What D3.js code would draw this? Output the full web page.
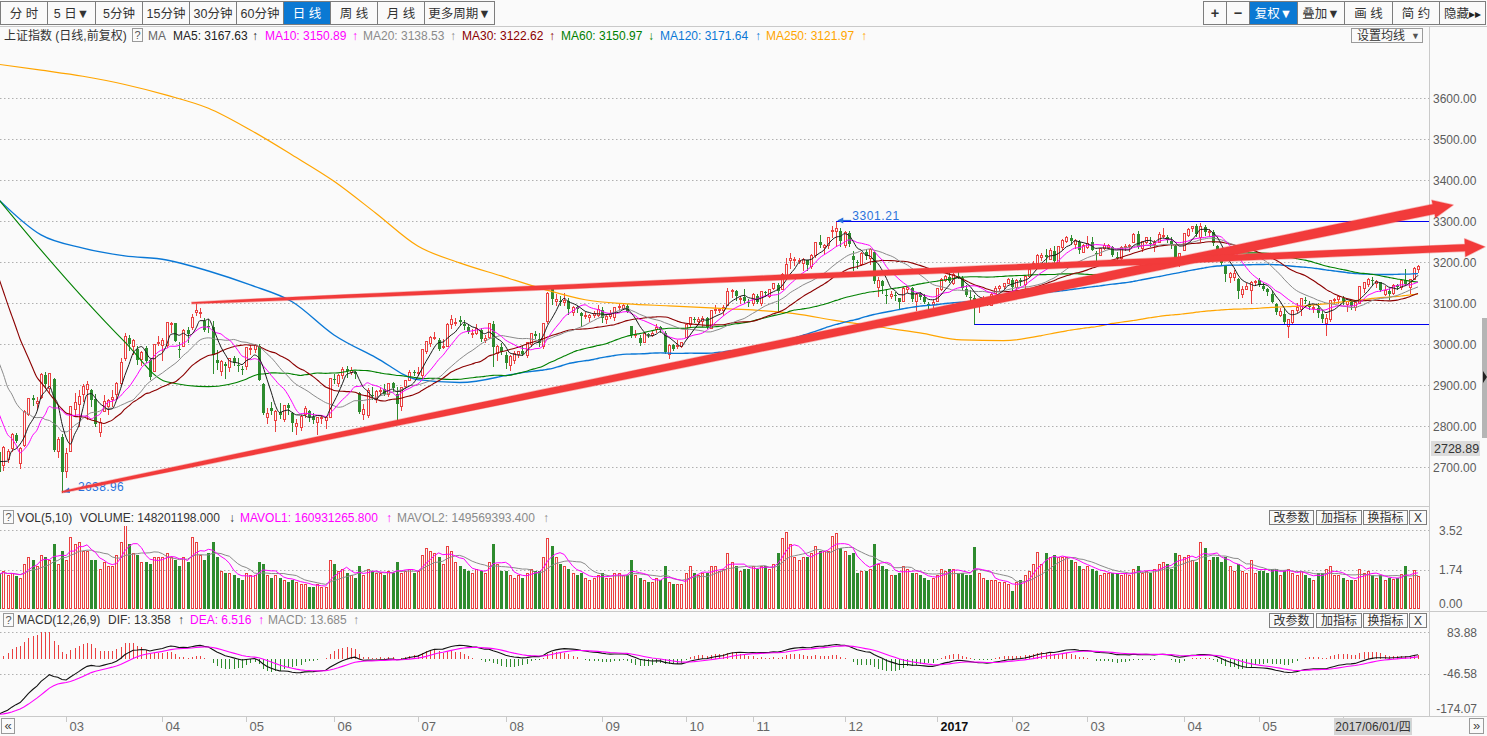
<!DOCTYPE html>
<html lang="zh-CN"><head><meta charset="utf-8"><title>上证指数 日线</title>
<script src="https://cdn.jsdelivr.net/npm/d3@7/dist/d3.min.js"></script>
<style>
html,body{margin:0;padding:0;background:#fafafa;overflow:hidden;}
svg{display:block;font-family:"Liberation Sans",Arial,"Noto Sans CJK SC",sans-serif;}
</style></head><body>
<svg id="chart" width="1487" height="736"></svg>
<script>
// ================= DATA =================
const tradingDays = [
 ["2016-02",[1,2,3,4,5,15,16,17,18,19,22,23,24,25,26,29]],
 ["2016-03",[1,2,3,4,7,8,9,10,11,14,15,16,17,18,21,22,23,24,25,28,29,30,31]],
 ["2016-04",[1,5,6,7,8,11,12,13,14,15,18,19,20,21,22,25,26,27,28,29]],
 ["2016-05",[3,4,5,6,9,10,11,12,13,16,17,18,19,20,23,24,25,26,27,30,31]],
 ["2016-06",[1,2,3,6,7,8,13,14,15,16,17,20,21,22,23,24,27,28,29,30]],
 ["2016-07",[1,4,5,6,7,8,11,12,13,14,15,18,19,20,21,22,25,26,27,28,29]],
 ["2016-08",[1,2,3,4,5,8,9,10,11,12,15,16,17,18,19,22,23,24,25,26,29,30,31]],
 ["2016-09",[1,2,5,6,7,8,9,12,13,14,19,20,21,22,23,26,27,28,29,30]],
 ["2016-10",[10,11,12,13,14,17,18,19,20,21,24,25,26,27,28,31]],
 ["2016-11",[1,2,3,4,7,8,9,10,11,14,15,16,17,18,21,22,23,24,25,28,29,30]],
 ["2016-12",[1,2,5,6,7,8,9,12,13,14,15,16,19,20,21,22,23,26,27,28,29,30]],
 ["2017-01",[3,4,5,6,9,10,11,12,13,16,17,18,19,20,23,24,25,26]],
 ["2017-02",[3,6,7,8,9,10,13,14,15,16,17,20,21,22,23,24,27,28]],
 ["2017-03",[1,2,3,6,7,8,9,10,13,14,15,16,17,20,21,22,23,24,27,28,29,30,31]],
 ["2017-04",[5,6,7,10,11,12,13,14,17,18,19,20,21,24,25,26,27,28]],
 ["2017-05",[2,3,4,5,8,9,10,11,12,15,16,17,18,19,22,23,24,25,26,31]],
 ["2017-06",[1,2,5,6,7,8,9,12,13,14,15,16,19,20,21,22,23,26,27]]
];

const open = [
 2736,2705,2720,2746,2778,2710,2753,2829,2869,2856,2871,2925,2893,2914,2740,2773,
 2691,2738,2841,2854,2878,2890,2888,2866,2785,2837,2848,2865,2877,2906,2965,3015,2995,2989,2963,2991,2960,2935,3003,
 2997,2998,3048,3051,2987,2995,3033,3041,3078,3077,3055,3045,3042,2960,2935,2952,2943,2965,2949,2940,
 2946,2987,2988,2994,2902,2822,2843,2815,2835,2816,2852,2831,2799,2798,2830,2837,2821,2809,2820,2815,2823,
 2914,2905,2925,2939,2932,2931,2880,2830,2827,2876,2868,2887,2891,2877,2904,2878,2849,2897,2912,2932,
 2931,2925,2983,3002,3015,3009,2993,2996,3048,3054,3058,3049,3042,3025,3027,3035,3009,3016,3050,2978,2993,
 2973,2949,2962,2976,2984,2972,3001,3024,3011,2996,3056,3136,3105,3105,3102,3106,3078,3091,3075,3068,3066,3071,3071,
 3083,3062,3068,3067,3091,3089,3093,3043,3022,3014,3005,3024,3023,3036,3041,3028,2976,2997,2994,2994,
 3017,3048,3060,3055,3056,3064,3040,3084,3084,3082,3094,3129,3129,3112,3114,3102,
 3100,3117,3099,3128,3118,3136,3144,3135,3167,3205,3204,3205,3198,3205,3191,3218,3248,3236,3241,3276,3276,3276,
 3242,3271,3214,3200,3195,3224,3209,3225,3138,3154,3120,3116,3120,3111,3104,3135,3137,3104,3122,3114,3097,3097,
 3105,3133,3157,3163,3148,3167,3160,3133,3115,3113,3093,3107,3105,3096,3125,3136,3141,3150,
 3156,3140,3155,3147,3166,3187,3198,3213,3217,3208,3228,3200,3237,3252,3259,3245,3250,3225,
 3236,3249,3222,3218,3234,3237,3236,3213,3210,3236,3238,3250,3268,3233,3250,3247,3244,3249,3266,3261,3251,3240,3207,
 3230,3265,3282,3287,3260,3285,3274,3273,3239,3214,3190,3164,3164,3159,3121,3134,3131,3152,
 3155,3142,3133,3122,3097,3070,3074,3045,3053,3083,3086,3107,3094,3087,3088,3072,3052,3062,3108,3110,
 3112,3097,3102,3090,3101,3137,3147,3155,3149,3151,3122,3130,3124,3144,3140,3157,3139,3158,3183
];
const high = [
 2741,2752,2745,2784,2783,2750,2838,2868,2876,2871,2929,2932,2929,2917,2774,2780,
 2746,2850,2880,2888,2903,2910,2890,2878,2819,2876,2866,2888,2908,2967,3026,3023,3013,2996,2982,2995,2963,3001,3019,
 3015,3054,3054,3052,3004,3037,3042,3074,3097,3089,3063,3062,3056,2985,2961,2956,2966,2970,2966,2947,
 2993,2998,3001,3001,2905,2845,2859,2839,2855,2851,2857,2834,2816,2828,2850,2840,2832,2823,2826,2824,2917,
 2926,2927,2945,2946,2944,2933,2882,2854,2893,2894,2889,2895,2903,2906,2908,2894,2896,2913,2936,2937,
 2944,2989,3008,3019,3030,3014,3013,3051,3070,3064,3068,3059,3047,3036,3050,3040,3023,3052,3056,2998,3002,
 2981,2973,2982,2984,2996,3005,3026,3031,3028,3051,3128,3140,3121,3118,3124,3112,3093,3093,3078,3079,3074,3080,3095,
 3091,3072,3082,3091,3101,3099,3097,3044,3035,3023,3028,3028,3031,3049,3045,3031,2999,3001,3010,3006,
 3050,3066,3066,3066,3068,3066,3084,3094,3088,3095,3136,3134,3131,3118,3133,3110,
 3124,3121,3130,3130,3134,3150,3149,3172,3210,3223,3211,3210,3209,3206,3220,3249,3265,3245,3262,3288,3301.21,3283,
 3275,3276,3228,3205,3224,3231,3233,3225,3163,3157,3134,3130,3126,3112,3138,3141,3139,3124,3126,3121,3102,3108,
 3136,3160,3168,3172,3173,3175,3167,3145,3131,3119,3109,3118,3115,3124,3141,3143,3149,3162,
 3160,3159,3161,3168,3188,3203,3219,3221,3231,3235,3239,3240,3256,3264,3265,3255,3254,3243,
 3263,3262,3226,3235,3246,3243,3238,3225,3238,3244,3243,3270,3275,3251,3262,3260,3254,3274,3283,3265,3262,3241,3223,
 3271,3284,3289,3292,3295,3291,3281,3278,3242,3222,3193,3175,3181,3160,3141,3149,3153,3156,
 3161,3150,3137,3129,3100,3088,3085,3062,3084,3099,3113,3114,3105,3096,3100,3080,3072,3108,3112,3120,
 3118,3106,3104,3103,3142,3152,3160,3164,3155,3152,3141,3136,3146,3147,3158,3184,3157,3188,3192
];
const low = [
 2682,2693,2712,2738,2760,2697,2752,2827,2852,2843,2869,2895,2880,2738,2725,2638.96,
 2675,2738,2828,2800,2860,2816,2850,2801,2776,2837,2829,2848,2866,2903,2962,2985,2976,2952,2948,2955,2914,2935,2997,
 2962,2993,3029,3007,2969,2995,3005,3037,3070,3066,3031,3029,2929,2939,2925,2918,2935,2948,2933,2926,
 2940,2975,2981,2913,2830,2807,2829,2789,2819,2811,2830,2789,2781,2790,2823,2812,2807,2780,2807,2796,2821,
 2904,2897,2918,2920,2928,2917,2831,2816,2822,2865,2858,2877,2875,2872,2885,2807,2839,2892,2911,2925,
 2925,2920,2979,2994,3012,2986,2990,2996,3040,3046,3046,3036,3028,3018,3024,3007,3006,3014,2947,2960,2975,
 2942,2937,2953,2969,2972,2969,2996,3014,2994,2990,3051,3098,3094,3095,3096,3074,3070,3077,3043,3063,3057,3065,3068,
 3053,3051,3063,3058,3086,3085,3077,3018,3017,2998,3004,3017,3019,3030,3030,2978,2966,2986,2991,2993,
 3017,3045,3053,3051,3044,3038,3040,3075,3079,3071,3094,3115,3107,3100,3100,3092,
 3096,3100,3095,3116,3115,3133,3079,3133,3165,3185,3192,3198,3181,3181,3186,3213,3236,3219,3235,3262,3238,3238,
 3236,3240,3180,3186,3193,3208,3196,3150,3118,3125,3099,3112,3108,3085,3104,3128,3104,3083,3110,3099,3086,3090,
 3105,3131,3154,3152,3147,3160,3135,3117,3100,3050,3078,3101,3096,3096,3124,3132,3137,3148,
 3128,3133,3145,3134,3163,3185,3196,3206,3201,3207,3199,3194,3232,3250,3244,3233,3223,3224,
 3235,3229,3203,3216,3231,3231,3214,3207,3199,3229,3228,3249,3234,3226,3247,3238,3226,3248,3262,3249,3235,3199,3190,
 3229,3263,3275,3263,3251,3267,3263,3242,3210,3195,3153,3151,3156,3111,3114,3133,3099,3143,
 3142,3131,3120,3102,3072,3068,3051,3016.53,3049,3078,3071,3100,3086,3078,3065,3053,3022.30,3056,3099,3101,
 3098,3081,3086,3082,3100,3126,3141,3143,3139,3130,3120,3110,3123,3135,3133,3144,3124,3158,3176
];
const close = [
 2688.85,2749.57,2739.25,2781.02,2763.49,2746.20,2836.57,2867.34,2862.89,2860.02,2927.18,2903.33,2928.90,2741.25,2767.21,2687.98,
 2733.17,2849.68,2859.50,2874.15,2897.34,2901.39,2862.56,2804.73,2810.31,2859.76,2864.37,2870.43,2904.83,2955.15,3018.80,2999.36,3009.96,2960.97,2979.43,2957.82,2919.83,3000.65,3003.92,
 3009.53,3053.07,3050.59,3008.42,2984.96,3033.96,3023.65,3066.64,3082.36,3078.12,3033.66,3042.82,2972.58,2952.89,2959.24,2946.67,2964.70,2953.67,2945.59,2938.32,
 2992.64,2991.27,2997.84,2913.25,2832.59,2832.11,2837.04,2835.86,2827.11,2850.86,2843.68,2807.51,2806.91,2825.48,2843.65,2821.67,2815.09,2822.44,2821.05,2822.45,2916.62,
 2913.51,2925.23,2938.68,2934.10,2936.04,2927.16,2833.07,2842.19,2887.21,2872.82,2885.11,2888.81,2878.56,2905.55,2891.96,2854.29,2895.70,2912.56,2931.59,2929.61,
 2932.48,2988.60,3006.39,3017.29,3016.85,2988.09,2994.92,3049.38,3060.69,3054.02,3054.30,3043.56,3029.90,3027.90,3039.01,3012.82,3015.83,3050.17,2992.00,2994.29,2979.34,
 2953.39,2971.28,2978.46,2982.43,2976.70,3004.28,3025.68,3018.75,3002.64,3050.67,3125.20,3110.04,3109.04,3104.11,3108.10,3084.81,3089.71,3085.87,3068.33,3070.31,3070.03,3074.68,3085.49,
 3063.31,3067.35,3072.10,3090.71,3091.93,3095.95,3078.85,3021.98,3023.51,3002.85,3026.05,3023.00,3025.87,3042.31,3033.90,2980.43,2998.17,2987.86,2998.48,3004.70,
 3048.14,3065.25,3058.50,3061.35,3063.81,3041.17,3083.88,3084.72,3084.46,3090.94,3128.25,3131.94,3116.31,3112.36,3104.27,3100.49,
 3122.44,3102.73,3128.94,3125.32,3133.33,3147.89,3128.37,3171.28,3196.04,3210.37,3206.99,3205.06,3208.45,3192.86,3218.15,3248.35,3241.14,3241.74,3261.94,3277.00,3282.92,3250.03,
 3273.31,3243.84,3204.71,3199.65,3222.24,3215.37,3232.88,3152.97,3155.04,3140.53,3117.68,3122.98,3118.08,3102.88,3137.43,3139.56,3110.15,3122.57,3114.66,3102.24,3096.10,3103.64,
 3135.92,3158.79,3165.41,3154.32,3171.24,3161.67,3136.75,3119.29,3112.76,3103.43,3108.77,3113.01,3101.30,3123.14,3136.77,3142.55,3149.55,3159.17,
 3140.17,3156.98,3153.09,3166.98,3183.18,3196.70,3216.84,3217.93,3212.99,3229.62,3202.08,3239.96,3253.33,3261.22,3251.38,3253.43,3228.66,3241.73,
 3246.93,3230.03,3218.31,3233.87,3242.41,3240.66,3216.75,3212.76,3237.02,3239.33,3241.76,3268.94,3237.45,3250.81,3261.61,3245.22,3248.55,3269.45,3266.96,3252.95,3241.31,3210.24,3222.51,
 3270.05,3281.00,3286.62,3269.39,3288.97,3273.83,3275.96,3246.07,3222.17,3196.71,3170.69,3172.10,3173.15,3129.53,3134.57,3140.85,3152.19,3154.66,
 3143.71,3135.35,3127.37,3103.04,3078.61,3080.53,3052.79,3061.50,3083.51,3090.23,3112.96,3104.44,3090.14,3090.63,3075.68,3061.95,3064.08,3107.83,3110.06,3117.18,
 3102.62,3105.54,3091.66,3102.10,3140.32,3150.33,3158.40,3153.56,3153.74,3130.67,3132.49,3123.17,3144.37,3140.01,3156.21,3147.45,3157.87,3185.44,3191.20
];
// volume, 1e8 lots
const volume = [
 1.55,1.7,1.5,1.6,1.45,1.4,2.0,2.3,2.2,1.9,2.4,2.3,2.2,2.9,2.0,2.6,
 2.2,3.2,2.9,3.0,2.6,2.6,2.2,2.2,1.8,2.1,1.9,1.9,2.4,3.0,3.75,2.9,2.5,2.4,2.1,2.1,2.0,2.3,2.3,
 2.3,2.5,2.3,2.2,1.9,2.3,2.1,3.2,3.0,2.4,2.2,2.5,3.0,2.3,1.7,1.6,1.6,1.5,1.4,1.3,
 1.6,1.5,1.5,2.1,2.0,1.5,1.4,1.5,1.4,1.3,1.2,1.3,1.2,1.1,1.1,1.0,1.0,1.1,1.0,1.0,2.2,
 2.0,1.7,1.8,1.6,1.5,1.4,1.9,1.5,1.8,1.7,1.6,1.6,1.5,1.7,1.6,2.1,1.6,1.7,1.8,1.6,
 1.7,2.4,2.7,2.6,2.5,2.3,2.0,2.8,2.6,2.1,1.9,1.8,1.7,1.6,1.8,1.7,1.6,2.1,2.9,2.0,1.7,
 1.7,1.5,1.4,1.5,1.4,1.6,1.8,1.7,1.7,2.3,3.15,2.8,2.3,2.0,1.9,1.8,1.6,1.5,1.6,1.4,1.3,1.4,1.5,
 1.6,1.4,1.4,1.6,1.6,1.5,1.5,2.2,1.5,1.4,1.3,1.2,1.2,1.4,1.3,1.9,1.2,1.1,1.1,1.1,
 1.6,1.9,1.6,1.5,1.6,1.6,1.9,1.9,1.7,1.8,2.5,2.1,1.9,1.7,1.8,1.8,
 1.9,1.8,1.9,1.9,1.8,2.0,2.5,3.15,3.45,2.9,2.3,2.2,2.3,2.3,2.5,2.8,2.6,2.6,2.6,3.25,3.4,2.7,
 2.6,2.4,2.5,1.6,1.7,1.7,1.8,2.9,2.0,1.9,1.8,1.5,1.5,1.6,1.9,1.8,1.6,1.6,1.5,1.4,1.3,1.4,
 1.5,1.8,1.7,1.8,1.8,1.6,1.6,1.5,1.5,2.75,1.6,1.4,1.3,1.3,1.3,1.2,1.2,1.1,
 0.8,1.2,1.3,1.5,1.7,2.0,2.55,2.0,2.5,2.3,2.4,2.3,2.3,2.3,2.2,2.1,1.9,1.8,
 1.9,1.8,1.7,1.5,1.6,1.6,1.6,1.6,1.5,1.6,1.5,1.8,1.9,1.6,1.7,1.6,1.8,2.0,2.1,2.0,1.8,2.5,2.4,
 2.3,2.4,2.2,2.1,3.0,2.7,2.2,2.3,2.3,2.1,2.3,1.9,1.7,2.0,1.7,1.6,2.2,1.6,
 1.7,1.7,1.6,1.8,1.8,1.5,1.7,1.8,1.6,1.5,1.7,1.5,1.4,1.3,1.6,1.6,1.8,1.9,1.5,1.5,
 1.4,1.3,1.3,1.3,1.8,1.6,1.7,1.5,1.4,1.5,1.3,1.4,1.35,1.36,1.55,1.9,1.4,1.72,1.48
];
// closes before the first visible day (warm-up of the short averages)
const priorCloses = [3580.00,3578.96,3642.47,3651.77,3636.09,3612.49,3627.91,3533.78,3563.74,3572.88,3539.18,
 3296.26,3287.71,3361.84,3125.00,3186.41,3016.70,3022.86,2949.60,3007.65,2900.97,2913.84,3007.74,2976.69,2880.48,2916.56,2938.51,2749.79,2735.56,2655.66,2737.60];
const maReadIdx = [0,10,20,30,40,50,60,70,80,90,100,110,120,130,140,150,160,170,180,190,200,210,220,230,240,250,260,270,280,290,300,310,320,330,339];
const ma60Read  = [3351,3229,3113,3005,2908,2896,2918,2932,2937,2932,2920,2920,2923,2954,2996,3022,3040,3047,3059,3081,3105,3127,3144,3166,3166,3171,3173,3178,3193,3210,3212,3200,3181,3169,3151];
const ma120Read = [3351,3266,3234,3215,3205,3178,3144,3103,3022,2967,2913,2906,2913,2940,2957,2974,2979,2981,2993,3010,3044,3071,3091,3103,3113,3132,3142,3154,3171,3190,3190,3186,3176,3171,3172];
const ma250Read = [3682,3668,3653,3633,3607,3575,3522,3461,3397,3319,3239,3198,3166,3134,3108,3098,3093,3088,3083,3074,3057,3042,3027,3010,3008,3022,3037,3057,3069,3083,3086,3096,3103,3110,3122];
const macdSeed = {ema12: 2860, ema26: 3030, dea: -172};

const priceTicks = [2700,2800,2900,3000,3100,3200,3300,3400,3500,3600];
const volTicks = [3.52, 1.74, 0];
const macdTicks = [83.88, -46.58, -174.07];

const legendLabels = [
 {t:"上证指数 (日线,前复权)", x:4, c:"#333"},
 {t:"MA", x:148, c:"#666"},
 {t:"MA5: 3167.63", x:173, c:"#222"}, {t:"↑", x:252, c:"#222"},
 {t:"MA10: 3150.89", x:265, c:"#ff00ff"}, {t:"↑", x:352, c:"#ff00ff"},
 {t:"MA20: 3138.53", x:363, c:"#8a8a8a"}, {t:"↑", x:450, c:"#8a8a8a"},
 {t:"MA30: 3122.62", x:462, c:"#8b0000"}, {t:"↑", x:549, c:"#8b0000"},
 {t:"MA60: 3150.97", x:561, c:"#008000"}, {t:"↓", x:648, c:"#008000"},
 {t:"MA120: 3171.64", x:660, c:"#0a78d6"}, {t:"↑", x:755, c:"#0a78d6"},
 {t:"MA250: 3121.97", x:766, c:"#ffa500"}, {t:"↑", x:861, c:"#ffa500"}
];
const volLabels = [
 {t:"VOL(5,10)", x:17, c:"#333"}, {t:"VOLUME: 148201198.000", x:80, c:"#333"}, {t:"↓", x:229, c:"#333"},
 {t:"MAVOL1: 160931265.800", x:240, c:"#ff00ff"}, {t:"↑", x:386, c:"#ff00ff"},
 {t:"MAVOL2: 149569393.400", x:397, c:"#8a8a8a"}, {t:"↑", x:543, c:"#8a8a8a"}
];
const macdLabels = [
 {t:"MACD(12,26,9)", x:17, c:"#333"}, {t:"DIF: 13.358", x:108, c:"#333"}, {t:"↑", x:178, c:"#333"},
 {t:"DEA: 6.516", x:190, c:"#ff00ff"}, {t:"↑", x:258, c:"#ff00ff"},
 {t:"MACD: 13.685", x:268, c:"#8a8a8a"}, {t:"↑", x:353, c:"#8a8a8a"}
];
const toolbarLeft = [
 {t:"分 时",a:0,b:47},{t:"5 日▼",a:47,b:95},{t:"5分钟",a:95,b:142},{t:"15分钟",a:142,b:189},
 {t:"30分钟",a:189,b:236},{t:"60分钟",a:236,b:283},{t:"日 线",a:283,b:330,sel:true},
 {t:"周 线",a:330,b:377},{t:"月 线",a:377,b:424},{t:"更多周期▼",a:424,b:494}
];
const toolbarRight = [
 {t:"+",a:1203,b:1226,bold:true},{t:"−",a:1226,b:1249,bold:true},{t:"复权▼",a:1249,b:1297,sel:true},{t:"叠加▼",a:1297,b:1344},
 {t:"画 线",a:1344,b:1392},{t:"简 约",a:1392,b:1439},{t:"隐藏",tail:"▸▸",a:1439,b:1485}
];
const panelButtons = [{t:"改参数",a:1269,b:1313},{t:"加指标",a:1316,b:1361},{t:"换指标",a:1363,b:1407},{t:"X",a:1409,b:1426}];
// drawn annotations (data coordinates)
const trendArrows = [
 {from:{i:15, v:2638.96}, to:{i:347.4, v:3339}, w0:1.5, w1:10},
 {from:{i:46, v:3100}, to:{i:355, v:3237}, w0:1.5, w1:7}
];
const hLines = [{i:200, v:3301.21, label:"3301.21"}, {i:233, v:3050, label:null}];
const pointLabels = [{i:15, v:2638.96, label:"2638.96"}];
const cursorDate = "2017/06/01/四";
const cursorPrice = "2728.89";

// ================= SETUP =================
const dates = tradingDays.flatMap(([m, ds]) => ds.map(d => m + "-" + String(d).padStart(2, "0")));
const n = close.length;
const BG = "#fafafa", RED = "#ea4040", GREEN = "#2e8b2e", GRID = "#b0b0b0", SEP = "#c9c9c9", AXT = "#5c5c5c";
const PR = 1429; // right edge of plotting area

const svg = d3.select("#chart");
svg.append("rect").attr("width", 1487).attr("height", 736).attr("fill", BG);

const x = d3.scaleLinear().domain([0, n - 1]).range([-0.8, 1418]);
const yP = d3.scaleLinear().domain([2700, 3300]).range([467, 221]);
const yV = d3.scaleLinear().domain([0, 3.52]).range([609, 530]);
const yM = d3.scaleLinear().domain([-174.07, 83.88]).range([715, 632]);

const defs = svg.append("defs");
defs.append("clipPath").attr("id", "clipP").append("rect").attr("x", 0).attr("y", 27).attr("width", PR).attr("height", 479);
defs.append("clipPath").attr("id", "clipV").append("rect").attr("x", 0).attr("y", 526).attr("width", PR).attr("height", 85);
defs.append("clipPath").attr("id", "clipM").append("rect").attr("x", 0).attr("y", 628).attr("width", PR).attr("height", 88);

const cd = d3.range(n).map(i => ({
  i, o: open[i], c: close[i], v: volume[i],
  h: Math.max(high[i], open[i], close[i]), l: Math.min(low[i], open[i], close[i])
}));
const isUp = d => d.c >= d.o;
const cx = d => Math.round(x(d.i));

function dotted(g, y, x0, x1) {
  g.append("line").attr("x1", x0).attr("x2", x1).attr("y1", Math.round(y) + 0.5).attr("y2", Math.round(y) + 0.5)
    .attr("stroke", GRID).attr("stroke-dasharray", "1.5,2.5");
}
function hline(y, x0, x1, col) {
  svg.append("line").attr("x1", x0).attr("x2", x1).attr("y1", y).attr("y2", y).attr("stroke", col || SEP);
}
function labelRow(items, y, size) {
  const g = svg.append("g").attr("font-size", size || 12);
  g.selectAll("text").data(items).join("text").attr("x", d => d.x).attr("y", y).attr("fill", d => d.c).text(d => d.t);
}
function qBox(x0, y0) {
  svg.append("rect").attr("x", x0 + 0.5).attr("y", y0 + 0.5).attr("width", 10).attr("height", 13).attr("fill", "none").attr("stroke", "#9a9a9a");
  svg.append("text").attr("x", x0 + 5.5).attr("y", y0 + 11).attr("text-anchor", "middle").attr("font-size", 11).attr("fill", "#555").text("?");
}
function buttons(list, y0, y1, size) {
  const g = svg.append("g");
  list.forEach(b => {
    g.append("rect").attr("x", b.a + 0.5).attr("y", y0 + 0.5).attr("width", b.b - b.a).attr("height", y1 - y0)
      .attr("fill", b.sel ? "#0b79d3" : BG).attr("stroke", "#7d7d7d");
    const t = g.append("text").attr("x", (b.a + b.b) / 2 + 0.5).attr("y", (y0 + y1) / 2 + size * 0.37 + 0.5).attr("text-anchor", "middle")
      .attr("font-size", b.bold ? size + 2 : size).attr("font-weight", b.bold ? "bold" : "normal").attr("fill", b.sel ? "#fff" : "#333");
    t.append("tspan").text(b.t);
    if (b.tail) t.append("tspan").attr("font-size", size - 1).attr("fill", "#222").text(b.tail);
  });
}

// ================= FRAME =================
buttons(toolbarLeft, 1, 24, 12.5);
buttons(toolbarRight, 1, 24, 12.5);
hline(26.5, 0, 1487);
hline(506.5, 0, PR + 1);
hline(611.5, 0, 1487);
hline(716.5, 0, 1487);
svg.append("line").attr("x1", PR + 0.5).attr("x2", PR + 0.5).attr("y1", 26).attr("y2", 717).attr("stroke", SEP);

// legend row
labelRow(legendLabels, 40, 12);
qBox(132, 28);
svg.append("rect").attr("x", 1351.5).attr("y", 28.5).attr("width", 71).attr("height", 14).attr("fill", BG).attr("stroke", "#9a9a9a");
svg.append("text").attr("x", 1357).attr("y", 40).attr("font-size", 12).attr("fill", "#333").text("设置均线");
svg.append("text").attr("x", 1411).attr("y", 39).attr("font-size", 9).attr("fill", "#555").text("▼");

// ================= PRICE PANEL =================
const gGrid = svg.append("g");
priceTicks.forEach(t => dotted(gGrid, yP(t), 0, PR));
svg.append("g").attr("font-size", 12).attr("fill", AXT).selectAll("text").data(priceTicks).join("text")
  .attr("x", 1433).attr("y", t => yP(t) + 4.5).text(t => t.toFixed(2));

const gP = svg.append("g").attr("clip-path", "url(#clipP)");
gP.append("g").selectAll("line").data(cd).join("line")
  .attr("x1", d => cx(d) + 0.5).attr("x2", d => cx(d) + 0.5)
  .attr("y1", d => Math.round(yP(d.h))).attr("y2", d => Math.round(yP(d.l)) + 1)
  .attr("stroke", d => isUp(d) ? RED : GREEN).attr("shape-rendering", "crispEdges");
gP.append("g").selectAll("rect").data(cd).join("rect")
  .each(function (d) {
    const top = Math.round(yP(Math.max(d.o, d.c))), bot = Math.round(yP(Math.min(d.o, d.c)));
    const s = d3.select(this);
    if (isUp(d)) {
      s.attr("x", cx(d) - 0.5).attr("y", top + 0.5).attr("width", 2).attr("height", Math.max(bot - top, 1))
        .attr("fill", BG).attr("stroke", RED);
    } else {
      s.attr("x", cx(d) - 1).attr("y", top).attr("width", 3).attr("height", Math.max(bot - top, 1)).attr("fill", GREEN);
    }
  }).attr("shape-rendering", "crispEdges");

// moving averages
const allC = priorCloses.concat(close), off = priorCloses.length;
function sma(k) {
  return close.map((_, i) => { const j = i + off; return [i, d3.mean(allC.slice(Math.max(0, j - k + 1), j + 1))]; });
}
function longMA(k, read) {
  const pts = [];
  maReadIdx.forEach((ix, m) => { if (ix < k - 1) pts.push([ix, read[m]]); });
  for (let i = k - 1; i < n; i++) pts.push([i, d3.mean(close.slice(i - k + 1, i + 1))]);
  return pts;
}
const lineP = d3.line().x(d => x(d[0])).y(d => yP(d[1])).curve(d3.curveMonotoneX);
const maSeries = [
  {pts: longMA(250, ma250Read), c: "#ffa500", w: 1.2},
  {pts: longMA(120, ma120Read), c: "#0a78d6", w: 1.4},
  {pts: longMA(60, ma60Read), c: "#008000", w: 1.1},
  {pts: sma(30), c: "#8b0000", w: 1.1},
  {pts: sma(20), c: "#8a8a8a", w: 1},
  {pts: sma(10), c: "#ff00ff", w: 1},
  {pts: sma(5), c: "#1a1a1a", w: 1}
];
gP.append("g").selectAll("path").data(maSeries).join("path")
  .attr("d", d => lineP(d.pts)).attr("fill", "none").attr("stroke", d => d.c).attr("stroke-width", d => d.w);

// blue drawn annotations
const BLUE = "#0000f0", BLUET = "#2a72dc";
hLines.forEach(h => {
  const px = x(h.i), py = Math.round(yP(h.v)) + 0.5;
  svg.append("line").attr("x1", px).attr("x2", PR).attr("y1", py).attr("y2", py).attr("stroke", BLUE).attr("stroke-width", 1.2);
  if (h.label) {
    svg.append("path").attr("d", `M${px + 15},${py - 1}L${px + 2},${py - 1}`).attr("stroke", BLUET).attr("stroke-width", 1.2);
    svg.append("path").attr("d", `M${px + 1},${py - 1}L${px + 7},${py - 4}L${px + 7},${py + 2}Z`).attr("fill", BLUET);
    svg.append("text").attr("x", px + 16).attr("y", py - 2).attr("font-size", 12).attr("letter-spacing", 0.6).attr("fill", BLUET).text(h.label);
  }
});
pointLabels.forEach(p => {
  const px = x(p.i), py = yP(p.v);
  svg.append("path").attr("d", `M${px + 15},${py - 3}L${px + 2},${py}`).attr("stroke", BLUET).attr("stroke-width", 1.2);
  svg.append("path").attr("d", `M${px + 1},${py}L${px + 7},${py - 4.5}L${px + 8},${py + 1}Z`).attr("fill", BLUET);
  svg.append("text").attr("x", px + 16).attr("y", py - 1.5).attr("font-size", 12).attr("letter-spacing", 0.4).attr("fill", BLUET).text(p.label);
});

// ================= VOLUME PANEL =================
qBox(3, 510);
labelRow(volLabels, 522, 12);
buttons(panelButtons, 510, 524, 12);
const gVg = svg.append("g");
[3.52, 1.74].forEach(t => dotted(gVg, yV(t), 0, PR));
svg.append("g").attr("font-size", 12).attr("fill", AXT).selectAll("text").data(volTicks).join("text")
  .attr("x", 1439).attr("y", t => t === 0 ? yV(t) - 1 : yV(t) + 4.5).text(t => t.toFixed(2));
const gV = svg.append("g").attr("clip-path", "url(#clipV)");
gV.selectAll("rect").data(cd).join("rect").each(function (d) {
  const top = Math.round(yV(d.v)), s = d3.select(this);
  if (isUp(d)) s.attr("x", cx(d) - 0.5).attr("y", top + 0.5).attr("width", 2).attr("height", 609 - top - 1).attr("fill", BG).attr("stroke", RED);
  else s.attr("x", cx(d) - 1).attr("y", top).attr("width", 3).attr("height", 609 - top).attr("fill", GREEN);
}).attr("shape-rendering", "crispEdges");
const vma = k => volume.map((_, i) => [i, d3.mean(volume.slice(Math.max(0, i - k + 1), i + 1))]);
const lineV = d3.line().x(d => x(d[0])).y(d => yV(d[1]));
gV.append("path").attr("d", lineV(vma(10))).attr("fill", "none").attr("stroke", "#8a8a8a");
gV.append("path").attr("d", lineV(vma(5))).attr("fill", "none").attr("stroke", "#ff00ff");

// ================= MACD PANEL =================
qBox(3, 613);
labelRow(macdLabels, 624, 12);
buttons(panelButtons, 613, 627, 12);
const gMg = svg.append("g");
[83.88, -46.58].forEach(t => dotted(gMg, yM(t), 0, PR));
svg.append("g").attr("font-size", 12).attr("fill", AXT).attr("text-anchor", "end").selectAll("text").data(macdTicks).join("text")
  .attr("x", 1477).attr("y", t => t === -174.07 ? yM(t) - 2 : yM(t) + 4.5).text(t => t.toFixed(2));
let e12 = macdSeed.ema12, e26 = macdSeed.ema26, dea = macdSeed.dea;
const macd = close.map((c, i) => {
  e12 += (c - e12) * 2 / 13; e26 += (c - e26) * 2 / 27;
  const dif = e12 - e26; dea += (dif - dea) * 2 / 10;
  return {i, dif, dea, h: 2 * (dif - dea)};
});
const gM = svg.append("g").attr("clip-path", "url(#clipM)");
gM.selectAll("line").data(macd).join("line")
  .attr("x1", d => Math.round(x(d.i)) + 0.5).attr("x2", d => Math.round(x(d.i)) + 0.5)
  .attr("y1", yM(0)).attr("y2", d => yM(d.h)).attr("stroke", d => d.h >= 0 ? RED : GREEN).attr("shape-rendering", "crispEdges");
const lineM = key => d3.line().x(d => x(d.i)).y(d => yM(d[key]));
gM.append("path").attr("d", lineM("dif")(macd)).attr("fill", "none").attr("stroke", "#111").attr("stroke-width", 1.1);
gM.append("path").attr("d", lineM("dea")(macd)).attr("fill", "none").attr("stroke", "#ff00ff").attr("stroke-width", 1.1);

// ================= X AXIS =================
const BOX = {x0: 1334, x1: 1412};
const monthStarts = [];
for (let i = 1; i < n; i++) if (dates[i].slice(0, 7) !== dates[i - 1].slice(0, 7)) monthStarts.push(i);
const gX = svg.append("g");
monthStarts.forEach(i => {
  const xx = Math.round(x(i)) + 0.5, mm = dates[i].slice(5, 7), jan = mm === "01";
  gX.append("line").attr("x1", xx).attr("x2", xx).attr("y1", 717).attr("y2", 722).attr("stroke", SEP);
  const lx = xx + 3, lw = jan ? 30 : 15;
  if (lx + lw > BOX.x0 && lx < BOX.x1) return; // hidden by the cursor date box
  gX.append("text").attr("x", lx).attr("y", 731).attr("font-size", jan ? 12.5 : 13)
    .attr("font-weight", jan ? "bold" : "normal").attr("fill", jan ? "#111" : "#666").text(jan ? dates[i].slice(0, 4) : mm);
});
svg.append("rect").attr("x", 1.5).attr("y", 718.5).attr("width", 13).attr("height", 15).attr("fill", BG).attr("stroke", "#9a9a9a");
svg.append("text").attr("x", 8).attr("y", 730).attr("text-anchor", "middle").attr("font-size", 13).attr("fill", "#444").text("«");
svg.append("rect").attr("x", 1469.5).attr("y", 718.5).attr("width", 14).attr("height", 15).attr("fill", BG).attr("stroke", "#9a9a9a");
svg.append("text").attr("x", 1476.5).attr("y", 730).attr("text-anchor", "middle").attr("font-size", 13).attr("fill", "#444").text("»");
svg.append("rect").attr("x", BOX.x0).attr("y", 718).attr("width", BOX.x1 - BOX.x0).attr("height", 17).attr("fill", "#d5d5d5");
svg.append("text").attr("x", (BOX.x0 + BOX.x1) / 2).attr("y", 731).attr("text-anchor", "middle").attr("font-size", 12).attr("fill", "#333").text(cursorDate);

// right side widgets
svg.append("rect").attr("x", 1431).attr("y", 441).attr("width", 49).attr("height", 15).attr("fill", "#dcdcdc");
svg.append("text").attr("x", 1434).attr("y", 453).attr("font-size", 12.5).attr("fill", "#333").text(cursorPrice);
svg.append("rect").attr("x", 1482).attr("y", 318).attr("width", 5).attr("height", 120).attr("fill", "#b5b5b5");
svg.append("path").attr("d", "M1483,371L1487,377L1483,383Z").attr("fill", "#222");

// ================= RED TREND ARROWS =================
function taperArrow(s, t, w0, w1, headLen, headHalf) {
  const dx = t[0] - s[0], dy = t[1] - s[1], L = Math.hypot(dx, dy), ux = dx / L, uy = dy / L, nx = -uy, ny = ux;
  const sl = L - headLen, left = [], right = [];
  for (let k = 0; k <= 40; k++) {
    const f = k / 40, w = (w0 + (w1 - w0) * Math.sqrt(f)) / 2;
    const px = s[0] + ux * sl * f, py = s[1] + uy * sl * f;
    left.push([px + nx * w, py + ny * w]); right.push([px - nx * w, py - ny * w]);
  }
  const b = [s[0] + ux * sl, s[1] + uy * sl];
  return [...left, [b[0] + nx * headHalf, b[1] + ny * headHalf], t, [b[0] - nx * headHalf, b[1] - ny * headHalf], ...right.reverse()];
}
const gA = svg.append("g");
trendArrows.forEach(a => {
  const poly = taperArrow([x(a.from.i), yP(a.from.v)], [x(a.to.i), yP(a.to.v)], a.w0, a.w1, 20, 9);
  gA.append("path").attr("d", "M" + poly.map(p => p.join(",")).join("L") + "Z")
    .attr("fill", "#f23b3b").attr("stroke", "rgba(242,59,59,0.35)").attr("stroke-width", 1.4).attr("stroke-linejoin", "round");
});
</script>
</body></html>
